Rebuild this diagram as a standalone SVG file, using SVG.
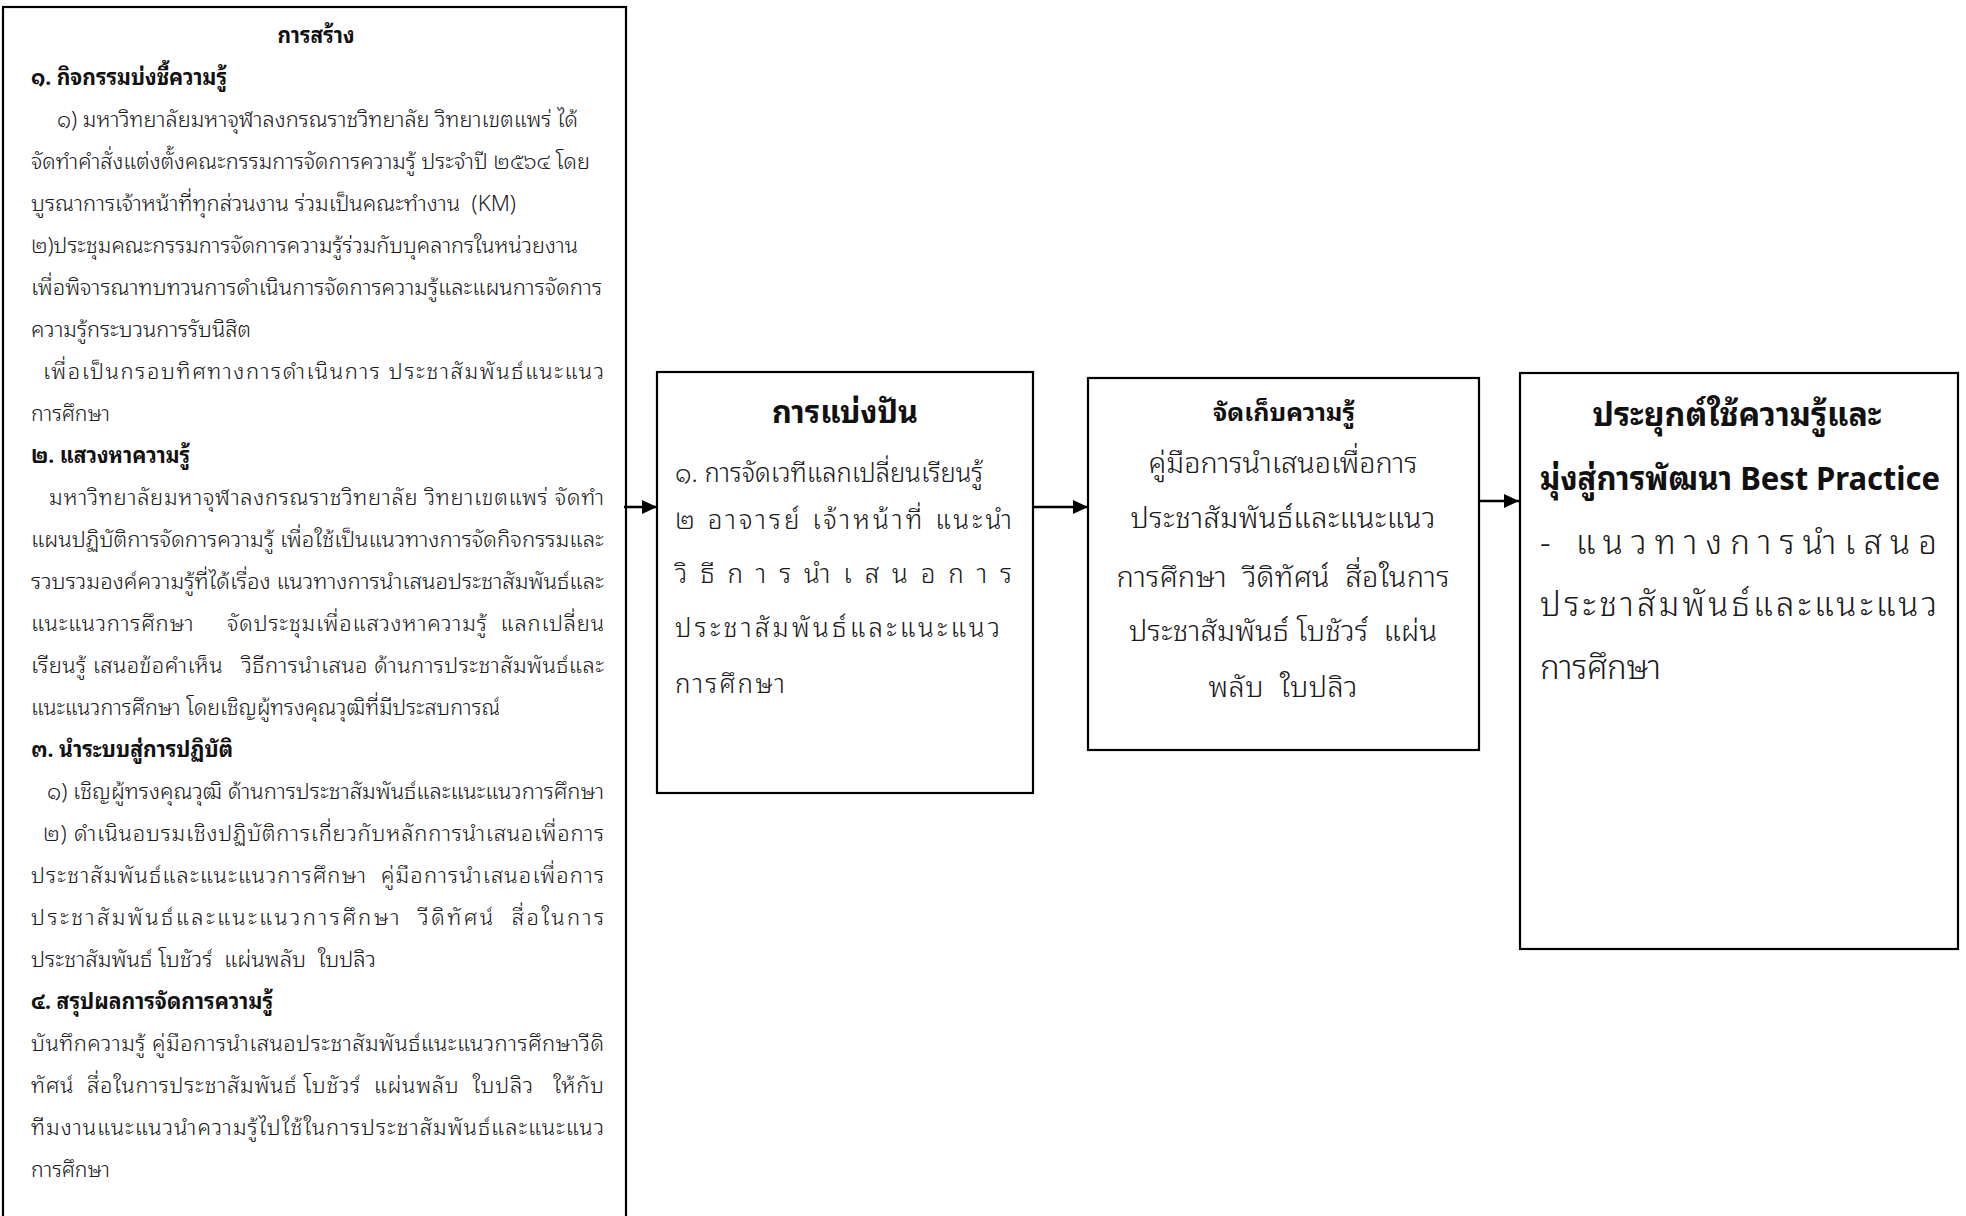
<svg xmlns="http://www.w3.org/2000/svg" width="1966" height="1216" viewBox="0 0 1966 1216" xml:space="preserve">
<style>
.box{fill:#fff;stroke:#000;stroke-width:2.2}
.t{font-family:"Noto Sans Thai Looped","Loma","Garuda","Noto Sans Thai","Noto Sans","DejaVu Sans",sans-serif;fill:#1a1a1a;white-space:pre;font-weight:300}
.l{font-size:22px}
.b{font-weight:bold;fill:#111}
.m2{font-size:26px}
.m3{font-size:29px}
.c{text-anchor:middle}
.r{font-size:33px}
.conn{stroke:#000;stroke-width:2.4;fill:none}
</style>
<defs>
<marker id="ah" markerUnits="userSpaceOnUse" markerWidth="16" markerHeight="16" refX="15" refY="7" orient="auto">
<path d="M0,0 L15,7 L0,14 z" fill="#000"/>
</marker>
</defs>
<rect width="1966" height="1216" fill="#fff"/>
<g id="node-create">
<rect class="box" x="3" y="7" width="623" height="1230"/>
<text class="t l b c" x="316" y="43" textLength="77" lengthAdjust="spacingAndGlyphs">การสร้าง</text>
<text class="t l b" x="31" y="85" textLength="196" lengthAdjust="spacingAndGlyphs">๑. กิจกรรมบ่งชี้ความรู้</text>
<text class="t l" x="57" y="127" textLength="521" lengthAdjust="spacingAndGlyphs">๑) มหาวิทยาลัยมหาจุฬาลงกรณราชวิทยาลัย วิทยาเขตแพร่ ได้</text>
<text class="t l" x="31" y="169" textLength="559" lengthAdjust="spacingAndGlyphs">จัดทำคำสั่งแต่งตั้งคณะกรรมการจัดการความรู้ ประจำปี ๒๕๖๔ โดย</text>
<text class="t l" x="31" y="211" textLength="485" lengthAdjust="spacingAndGlyphs">บูรณาการเจ้าหน้าที่ทุกส่วนงาน ร่วมเป็นคณะทำงาน  (KM)</text>
<text class="t l" x="31" y="253" textLength="547" lengthAdjust="spacingAndGlyphs">๒)ประชุมคณะกรรมการจัดการความรู้ร่วมกับบุคลากรในหน่วยงาน</text>
<text class="t l" x="31" y="295" textLength="571" lengthAdjust="spacingAndGlyphs">เพื่อพิจารณาทบทวนการดำเนินการจัดการความรู้และแผนการจัดการ</text>
<text class="t l" x="31" y="337" textLength="220" lengthAdjust="spacingAndGlyphs">ความรู้กระบวนการรับนิสิต</text>
<text class="t l" x="43" y="379" textLength="561" lengthAdjust="spacing">เพื่อเป็นกรอบทิศทางการดำเนินการ ประชาสัมพันธ์แนะแนว</text>
<text class="t l" x="31" y="421" textLength="79" lengthAdjust="spacingAndGlyphs">การศึกษา</text>
<text class="t l b" x="31" y="463" textLength="159" lengthAdjust="spacingAndGlyphs">๒. แสวงหาความรู้</text>
<text class="t l" x="49" y="505" textLength="555" lengthAdjust="spacing">มหาวิทยาลัยมหาจุฬาลงกรณราชวิทยาลัย วิทยาเขตแพร่ จัดทำ</text>
<text class="t l" x="31" y="547" textLength="573" lengthAdjust="spacingAndGlyphs">แผนปฏิบัติการจัดการความรู้ เพื่อใช้เป็นแนวทางการจัดกิจกรรมและ</text>
<text class="t l" x="31" y="589" textLength="573" lengthAdjust="spacingAndGlyphs">รวบรวมองค์ความรู้ที่ได้เรื่อง แนวทางการนำเสนอประชาสัมพันธ์และ</text>
<text class="t l" x="31" y="631" textLength="573" lengthAdjust="spacing">แนะแนวการศึกษา     จัดประชุมเพื่อแสวงหาความรู้  แลกเปลี่ยน</text>
<text class="t l" x="31" y="673" textLength="573" lengthAdjust="spacing">เรียนรู้ เสนอข้อคำเห็น   วิธีการนำเสนอ ด้านการประชาสัมพันธ์และ</text>
<text class="t l" x="31" y="715" textLength="469" lengthAdjust="spacingAndGlyphs">แนะแนวการศึกษา โดยเชิญผู้ทรงคุณวุฒิที่มีประสบการณ์</text>
<text class="t l b" x="31" y="757" textLength="202" lengthAdjust="spacingAndGlyphs">๓. นำระบบสู่การปฏิบัติ</text>
<text class="t l" x="47" y="799" textLength="557" lengthAdjust="spacingAndGlyphs">๑) เชิญผู้ทรงคุณวุฒิ ด้านการประชาสัมพันธ์และแนะแนวการศึกษา</text>
<text class="t l" x="43" y="841" textLength="561" lengthAdjust="spacing">๒) ดำเนินอบรมเชิงปฏิบัติการเกี่ยวกับหลักการนำเสนอเพื่อการ</text>
<text class="t l" x="31" y="883" textLength="573" lengthAdjust="spacing">ประชาสัมพันธ์และแนะแนวการศึกษา  คู่มือการนำเสนอเพื่อการ</text>
<text class="t l" x="31" y="925" textLength="573" lengthAdjust="spacing">ประชาสัมพันธ์และแนะแนวการศึกษา  วีดิทัศน์  สื่อในการ</text>
<text class="t l" x="31" y="967" textLength="345" lengthAdjust="spacingAndGlyphs">ประชาสัมพันธ์ โบชัวร์  แผ่นพลับ  ใบปลิว</text>
<text class="t l b" x="31" y="1009" textLength="242" lengthAdjust="spacingAndGlyphs">๔. สรุปผลการจัดการความรู้</text>
<text class="t l" x="31" y="1051" textLength="573" lengthAdjust="spacing">บันทึกความรู้ คู่มือการนำเสนอประชาสัมพันธ์แนะแนวการศึกษาวีดิ</text>
<text class="t l" x="31" y="1093" textLength="573" lengthAdjust="spacing">ทัศน์  สื่อในการประชาสัมพันธ์ โบชัวร์  แผ่นพลับ  ใบปลิว   ให้กับ</text>
<text class="t l" x="31" y="1135" textLength="573" lengthAdjust="spacing">ทีมงานแนะแนวนำความรู้ไปใช้ในการประชาสัมพันธ์และแนะแนว</text>
<text class="t l" x="31" y="1177" textLength="79" lengthAdjust="spacingAndGlyphs">การศึกษา</text>
</g>
<g id="node-share">
<rect class="box" x="657" y="372" width="376" height="421"/>
<text class="t b c" x="845" y="423" font-size="32" textLength="146" lengthAdjust="spacingAndGlyphs">การแบ่งปัน</text>
<text class="t m2" x="675" y="482" textLength="308" lengthAdjust="spacingAndGlyphs">๑. การจัดเวทีแลกเปลี่ยนเรียนรู้</text>
<text class="t m2" x="675" y="529" textLength="337" lengthAdjust="spacing">๒ อาจารย์ เจ้าหน้าที่ แนะนำ</text>
<text class="t m2" x="675" y="583" textLength="337" lengthAdjust="spacing">วิธีการนำเสนอการ</text>
<text class="t m2" x="675" y="637" textLength="325" lengthAdjust="spacing">ประชาสัมพันธ์และแนะแนว</text>
<text class="t m2" x="675" y="693" textLength="110" lengthAdjust="spacing">การศึกษา</text>
</g>
<g id="node-store">
<rect class="box" x="1088" y="378" width="391" height="372"/>
<text class="t b c" x="1284" y="421" font-size="25" textLength="142" lengthAdjust="spacingAndGlyphs">จัดเก็บความรู้</text>
<text class="t m3 c" x="1283" y="473" textLength="269" lengthAdjust="spacingAndGlyphs">คู่มือการนำเสนอเพื่อการ</text>
<text class="t m3 c" x="1283" y="528" textLength="305" lengthAdjust="spacing">ประชาสัมพันธ์และแนะแนว</text>
<text class="t m3 c" x="1283" y="587" textLength="333" lengthAdjust="spacing">การศึกษา  วีดิทัศน์  สื่อในการ</text>
<text class="t m3 c" x="1283" y="641" textLength="308" lengthAdjust="spacing">ประชาสัมพันธ์ โบชัวร์  แผ่น</text>
<text class="t m3 c" x="1283" y="697" textLength="149" lengthAdjust="spacing">พลับ  ใบปลิว</text>
</g>
<g id="node-apply">
<rect class="box" x="1520" y="373" width="438" height="576"/>
<text class="t r b c" x="1737" y="426" textLength="289" lengthAdjust="spacingAndGlyphs">ประยุกต์ใช้ความรู้และ</text>
<text class="t r b" x="1540" y="490" textLength="400" lengthAdjust="spacingAndGlyphs">มุ่งสู่การพัฒนา Best Practice</text>
<text class="t r" x="1540" y="554" textLength="397" lengthAdjust="spacing">- แนวทางการนำเสนอ</text>
<text class="t r" x="1540" y="616" textLength="397" lengthAdjust="spacing">ประชาสัมพันธ์และแนะแนว</text>
<text class="t r" x="1540" y="679" textLength="121" lengthAdjust="spacing">การศึกษา</text>
</g>
<g id="connectors">
<line class="conn" x1="624" y1="507" x2="657" y2="507" marker-end="url(#ah)"/>
<line class="conn" x1="1033" y1="507" x2="1088" y2="507" marker-end="url(#ah)"/>
<line class="conn" x1="1479" y1="501" x2="1519" y2="501" marker-end="url(#ah)"/>
</g>
</svg>
